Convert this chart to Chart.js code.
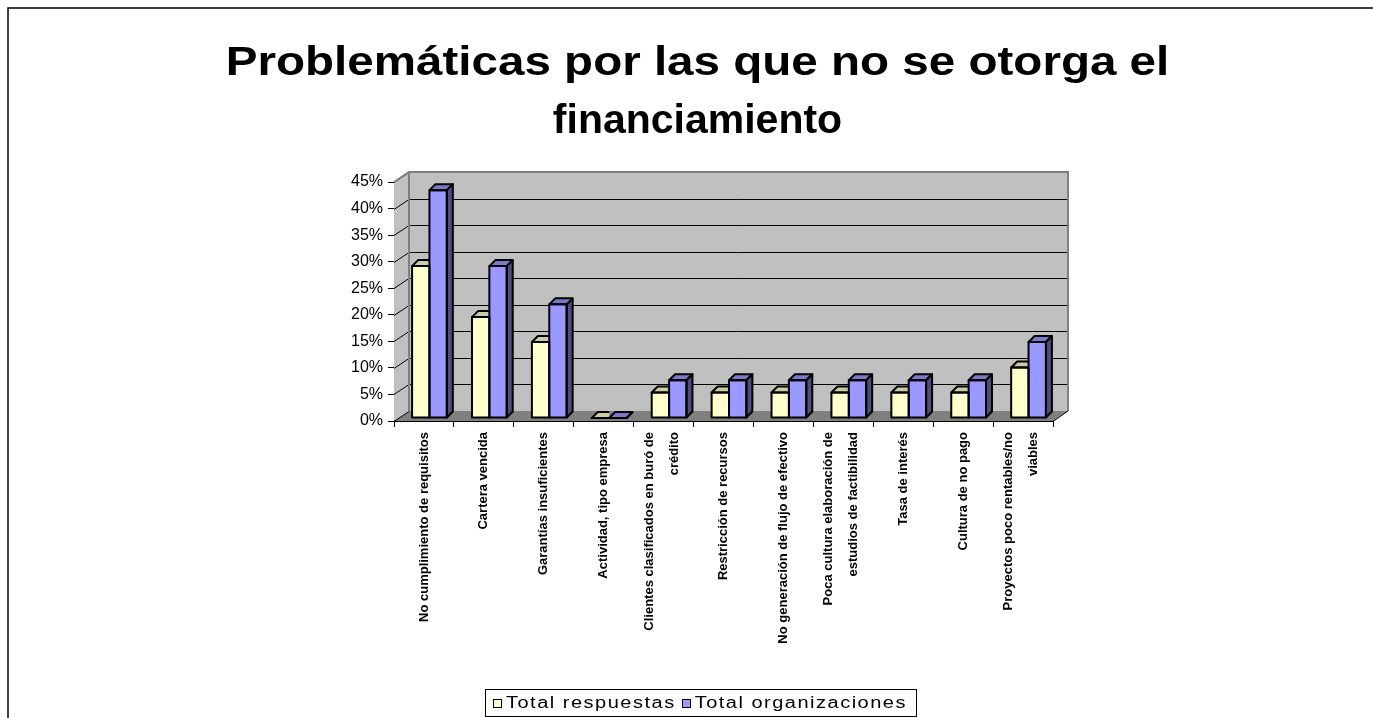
<!DOCTYPE html>
<html>
<head>
<meta charset="utf-8">
<script src="https://cdn.jsdelivr.net/npm/chart.js@4.4.1/dist/chart.umd.min.js"></script>
<style>
  html, body { margin: 0; padding: 0; background: #fff; overflow: hidden; }
  #wrap { width: 1373px; height: 718px; position: relative; }
</style>
</head>
<body>
<div id="wrap"><canvas id="c" width="1373" height="718"></canvas></div>
<script>
// ---- data ----
const categories = [
  'No cumplimiento de requisitos',
  'Cartera vencida',
  'Garantías insuficientes',
  'Actividad, tipo empresa',
  ['Clientes clasificados en buró de', 'crédito'],
  'Restricción de recursos',
  'No generación de flujo de efectivo',
  ['Poca cultura elaboración de', 'estudios de factibilidad'],
  'Tasa de interés',
  'Cultura de no pago',
  ['Proyectos poco rentables/no', 'viables']
];
const totalRespuestas     = [28.6, 19.0, 14.3, 0, 4.8, 4.8, 4.8, 4.8, 4.8, 4.8, 9.5];
const totalOrganizaciones = [42.9, 28.6, 21.4, 0, 7.1, 7.1, 7.1, 7.1, 7.1, 7.1, 14.3];
const seriesNames = ['Total respuestas', 'Total organizaciones'];
const titleLines = ['Problemáticas por las que no se otorga el', 'financiamiento'];
const yMax = 45;
const yStep = 5;

// ---- look ----
const FONT = '"Liberation Sans", Arial, sans-serif';
const FILL = ['#FFFFCC', '#9999FF'];
const TOP_FILL = ['#CCCCA3', '#7A7ACC'];
const SIDE_FILL = ['#808066', '#4D4D80'];
const WALL_DX = 15, WALL_DY = 10;   // depth of the back wall behind the axes
const BAR_DX = 5.5, BAR_DY = 3;     // bars stand a little behind the front plane
const FACE_D = 6;                   // depth of each bar's top and side faces
const LABEL_GAP = 25;               // spacing between lines of a category label
const TITLE_CX = 697.5;
const TITLE_BASELINES = [75, 133];
const TITLE_STRETCH = [1.16, 1.0];  // horizontal widening of each title line
const LEGEND_CX = 700.5;
const LEGEND_TOP = 689, LEGEND_H = 27;
const LEGEND_STRETCH = 1.25;

const boxPlugin = {
  id: 'box3d',
  // bars stand slightly behind the axis plane
  afterDatasetsUpdate(chart) {
    chart.data.datasets.forEach((ds, i) => {
      chart.getDatasetMeta(i).data.forEach(el => {
        el.x += BAR_DX;
        el.y -= BAR_DY;
        el.base -= BAR_DY;
      });
    });
  },
  // walls, floor and back gridlines of the 3-D plot box
  beforeDatasetsDraw(chart) {
    const { ctx, chartArea: a, scales: { y } } = chart;
    const L = a.left, R = a.right, T = a.top, B = a.bottom;
    ctx.save();
    ctx.fillStyle = '#C0C0C0';
    ctx.fillRect(L + WALL_DX, T - WALL_DY, R - L, B - T);
    ctx.beginPath();
    ctx.moveTo(L, T); ctx.lineTo(L + WALL_DX, T - WALL_DY);
    ctx.lineTo(L + WALL_DX, B - WALL_DY); ctx.lineTo(L, B);
    ctx.closePath(); ctx.fill();
    ctx.fillStyle = '#808080';
    ctx.beginPath();
    ctx.moveTo(L, B); ctx.lineTo(R, B);
    ctx.lineTo(R + WALL_DX, B - WALL_DY); ctx.lineTo(L + WALL_DX, B - WALL_DY);
    ctx.closePath(); ctx.fill();
    ctx.strokeStyle = '#000';
    ctx.lineWidth = 1;
    y.ticks.forEach(t => {
      const py = Math.round(y.getPixelForValue(t.value)) + 0.5;
      if (t.value > 0 && t.value < yMax) {
        ctx.beginPath();
        ctx.moveTo(L + WALL_DX, py - WALL_DY);
        ctx.lineTo(R + WALL_DX, py - WALL_DY);
        ctx.stroke();
      }
      ctx.beginPath();
      ctx.moveTo(L, py);
      ctx.lineTo(L + WALL_DX, py - WALL_DY);
      ctx.stroke();
    });
    ctx.strokeStyle = '#808080';
    ctx.lineWidth = 2;
    ctx.beginPath();
    ctx.moveTo(L, T); ctx.lineTo(L + WALL_DX, T - WALL_DY);
    ctx.lineTo(R + WALL_DX, T - WALL_DY); ctx.lineTo(R + WALL_DX, B - WALL_DY);
    ctx.moveTo(L + WALL_DX, T - WALL_DY); ctx.lineTo(L + WALL_DX, B - WALL_DY);
    ctx.stroke();
    ctx.strokeStyle = '#000';
    ctx.lineWidth = 1;
    ctx.beginPath();
    ctx.moveTo(R, B + 0.5); ctx.lineTo(R + WALL_DX, B - WALL_DY);
    ctx.stroke();
    ctx.restore();
  },
  // top and side faces plus outlines of every bar
  afterDatasetsDraw(chart) {
    const { ctx } = chart;
    const metas = chart.data.datasets.map((ds, i) => chart.getDatasetMeta(i));
    ctx.save();
    ctx.strokeStyle = '#000';
    ctx.lineWidth = 2;
    ctx.lineJoin = 'round';
    for (let j = 0; j < categories.length; j++) {
      metas.forEach((meta, i) => {
        const el = meta.data[j];
        const { x, y, base, width } = el.getProps(['x', 'y', 'base', 'width'], true);
        const l = x - width / 2, r = x + width / 2;
        ctx.save();
        if (i === 0) {
          ctx.beginPath();
          ctx.rect(l - 2, y - FACE_D - 4, r - l + 2, FACE_D + 8);
          ctx.clip();
        }
        ctx.beginPath();
        ctx.moveTo(l, y); ctx.lineTo(r, y);
        ctx.lineTo(r + FACE_D, y - FACE_D); ctx.lineTo(l + FACE_D, y - FACE_D);
        ctx.closePath();
        ctx.fillStyle = TOP_FILL[i];
        ctx.fill(); ctx.stroke();
        ctx.restore();
        if (i === metas.length - 1) {
          ctx.beginPath();
          ctx.moveTo(r, y); ctx.lineTo(r + FACE_D, y - FACE_D);
          ctx.lineTo(r + FACE_D, base - FACE_D); ctx.lineTo(r, base);
          ctx.closePath();
          ctx.fillStyle = SIDE_FILL[i];
          ctx.fill(); ctx.stroke();
        }
        ctx.strokeRect(l, y, r - l, base - y);
      });
    }
    ctx.restore();
  },
  afterDraw(chart) {
    const { ctx, chartArea: a, scales: { x } } = chart;
    ctx.save();
    ctx.fillStyle = '#000';

    // title
    ctx.font = 'bold 41px ' + FONT;
    ctx.textAlign = 'center';
    ctx.textBaseline = 'alphabetic';
    titleLines.forEach((t, k) => {
      ctx.save();
      ctx.translate(TITLE_CX, TITLE_BASELINES[k]);
      ctx.scale(TITLE_STRETCH[k], 1);
      ctx.fillText(t, 0, 0);
      ctx.restore();
    });

    // category labels, rotated to read upwards
    ctx.font = 'bold 13px ' + FONT;
    ctx.textAlign = 'right';
    ctx.textBaseline = 'middle';
    categories.forEach((lab, i) => {
      const lines = Array.isArray(lab) ? lab : [lab];
      const c = x.getPixelForValue(i) - (lines.length > 1 ? 2 : 0);
      lines.forEach((t, k) => {
        const cx = c + (k - (lines.length - 1) / 2) * LABEL_GAP;
        ctx.save();
        ctx.translate(cx, a.bottom + 11);
        ctx.rotate(-Math.PI / 2);
        ctx.fillText(t, 0, 0);
        ctx.restore();
      });
    });

    // legend
    ctx.font = '16px ' + FONT;
    ctx.letterSpacing = '1.2px';
    ctx.textAlign = 'left';
    ctx.textBaseline = 'alphabetic';
    const SQ = 8, GAP = 5, ITEM_GAP = 6, PAD_L = 8, PAD_R = 9;
    const widths = seriesNames.map(s => ctx.measureText(s).width * LEGEND_STRETCH);
    let inner = 0;
    widths.forEach((w, i) => { inner += SQ + GAP + w + (i ? 0 : ITEM_GAP); });
    const frameW = PAD_L + inner + PAD_R;
    const frameL = Math.round(LEGEND_CX - frameW / 2);
    ctx.strokeStyle = '#000';
    ctx.lineWidth = 1;
    ctx.strokeRect(frameL + 0.5, LEGEND_TOP + 0.5, Math.round(frameW), LEGEND_H);
    let cx = frameL + PAD_L;
    const sqTop = LEGEND_TOP + 10;
    seriesNames.forEach((s, i) => {
      ctx.fillStyle = FILL[i];
      ctx.fillRect(Math.round(cx) + 0.5, sqTop + 0.5, SQ, SQ);
      ctx.strokeRect(Math.round(cx) + 0.5, sqTop + 0.5, SQ, SQ);
      cx += SQ + GAP;
      ctx.fillStyle = '#000';
      ctx.save();
      ctx.translate(cx, LEGEND_TOP + 18.5);
      ctx.scale(LEGEND_STRETCH, 1);
      ctx.fillText(s, 0, 0);
      ctx.restore();
      cx += widths[i] + ITEM_GAP;
    });
    ctx.letterSpacing = '0px';

    // outer frame of the chart
    ctx.strokeStyle = '#000';
    ctx.lineWidth = 1.5;
    ctx.beginPath();
    ctx.moveTo(8, 718); ctx.lineTo(8, 8); ctx.lineTo(1373, 8);
    ctx.stroke();
    ctx.restore();
  }
};

new Chart(document.getElementById('c'), {
  type: 'bar',
  data: {
    labels: categories,
    datasets: [
      { label: seriesNames[0], data: totalRespuestas, backgroundColor: FILL[0], borderWidth: 0 },
      { label: seriesNames[1], data: totalOrganizaciones, backgroundColor: FILL[1], borderWidth: 0 }
    ]
  },
  options: {
    responsive: false,
    devicePixelRatio: 1,
    animation: false,
    events: [],
    categoryPercentage: 0.58,
    barPercentage: 1,
    layout: { padding: { left: 22, right: 0, top: 182, bottom: 0 } },
    scales: {
      x: {
        ticks: { display: false },
        grid: { drawOnChartArea: false, drawTicks: true, tickLength: 6, color: '#000', offset: true },
        border: { display: true, color: '#000', width: 1 },
        afterFit(s) { s.height = 297; }
      },
      y: {
        min: 0,
        max: yMax,
        ticks: {
          stepSize: yStep,
          padding: 5,
          color: '#000',
          font: { family: FONT, size: 16 },
          callback: v => v + '%'
        },
        grid: { drawOnChartArea: false, drawTicks: true, tickLength: 6, color: '#000' },
        border: { display: true, color: '#000', width: 1 },
        afterFit(s) { s.width = 372; }
      },
      spacer: {
        type: 'linear',
        position: 'right',
        display: true,
        ticks: { display: false },
        grid: { display: false },
        border: { display: false },
        afterFit(s) { s.width = 320; }
      }
    },
    plugins: {
      title: { display: false },
      legend: { display: false },
      tooltip: { enabled: false }
    }
  },
  plugins: [boxPlugin]
});
</script>
</body>
</html>
